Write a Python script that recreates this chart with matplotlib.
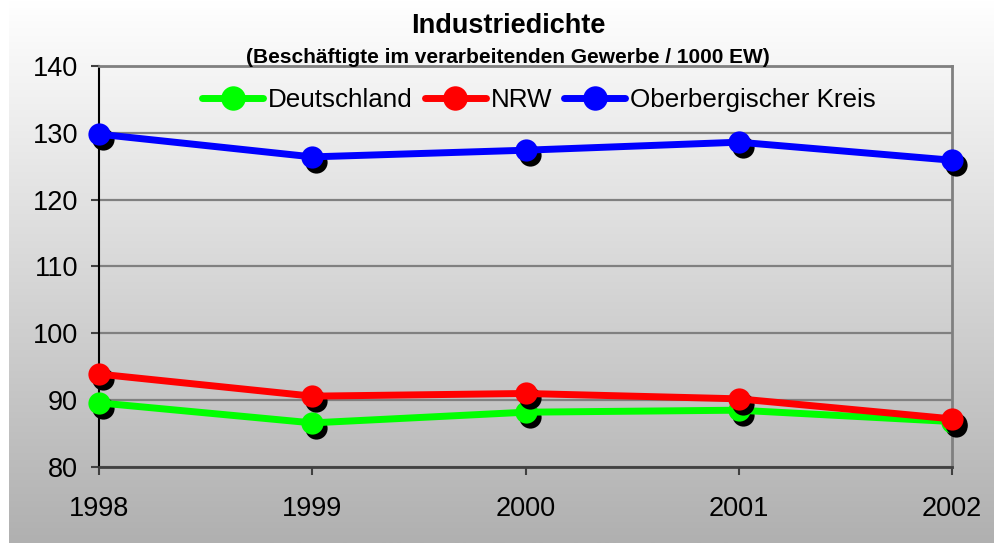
"""Industriedichte chart: employees in manufacturing per 1000 inhabitants."""
import matplotlib
matplotlib.use("Agg")
import matplotlib.pyplot as plt  # noqa: E402
import matplotlib.transforms as mtransforms  # noqa: E402
import numpy as np  # noqa: E402

plt.rcParams["font.family"] = ["Liberation Sans", "DejaVu Sans"]

YEARS = ["1998", "1999", "2000", "2001", "2002"]
DEUTSCHLAND = [89.6, 86.6, 88.2, 88.5, 86.8]
NRW = [93.9, 90.6, 91.0, 90.2, 87.2]
OBK = [129.8, 126.4, 127.4, 128.6, 125.9]

SERIES = [  # label, values, color
    ("Deutschland", DEUTSCHLAND, "#00FF00"),
    ("NRW", NRW, "#FF0000"),
    ("Oberbergischer Kreis", OBK, "#0000FF"),
]

W, H = 994, 543
fig = plt.figure(figsize=(W / 100, H / 100), dpi=100)
fig.patch.set_facecolor("white")

# vertical grey gradient behind everything
bg = fig.add_axes([9 / W, 0, 1 - 9 / W, 1], zorder=-10)
grad = np.linspace(0, 1, 256).reshape(-1, 1)
bg.imshow(grad, aspect="auto", cmap=matplotlib.colors.LinearSegmentedColormap.from_list(
    "bg", ["#FFFFFF", "#B0B0B0"]), extent=[0, 1, 1, 0])
bg.axis("off")

ax = fig.add_axes([99 / W, 1 - 467 / H, (952 - 99) / W, (467 - 66) / H])
ax.patch.set_alpha(0)

x = np.arange(len(YEARS))
shadow = mtransforms.ScaledTranslation(3 / 72, -3.5 / 72, fig.dpi_scale_trans)
z = 3
for label, vals, color in SERIES:
    ax.plot(x, vals, "o", color="black", ms=16, mew=0, clip_on=False,
            transform=ax.transData + shadow, zorder=z)
    ax.plot(x, vals, "-o", color=color, lw=5, ms=16, mew=0, clip_on=False,
            label=label, zorder=z + 0.5, solid_capstyle="round")
    z += 1

ax.set_xlim(0, len(YEARS) - 1)
ax.set_ylim(80, 140)
ax.set_yticks(range(80, 141, 10))
ax.set_xticks(x)
ax.set_xticklabels(YEARS)
ax.tick_params(axis="both", labelsize=19.5, length=6, width=1.5, color="#404040")
ax.tick_params(axis="y", pad=9)
ax.tick_params(axis="x", pad=15)
ax.grid(axis="y", color="#808080", lw=1.6)
ax.set_axisbelow(True)
for side in ("top", "right"):
    ax.spines[side].set_color("#808080")
    ax.spines[side].set_linewidth(2)
ax.spines["left"].set_color("black")
ax.spines["left"].set_linewidth(1.5)
ax.spines["bottom"].set_color("#404040")
ax.spines["bottom"].set_linewidth(2)

ax.legend(loc="center", bbox_to_anchor=(0.516, 0.915), ncol=3, frameon=False,
          fontsize=18.7, handlelength=2.35, handletextpad=0.2, columnspacing=0.45,
          borderaxespad=0, markerscale=1.1)

fig.text(508 / W, 1 - 33 / H, "Industriedichte", ha="center", va="baseline",
         fontsize=19.5, fontweight="bold")
fig.text(508 / W, 1 - 63 / H, "(Beschäftigte im verarbeitenden Gewerbe / 1000 EW)",
         ha="center", va="baseline", fontsize=15, fontweight="bold")

fig.savefig("out.png", dpi=100)
